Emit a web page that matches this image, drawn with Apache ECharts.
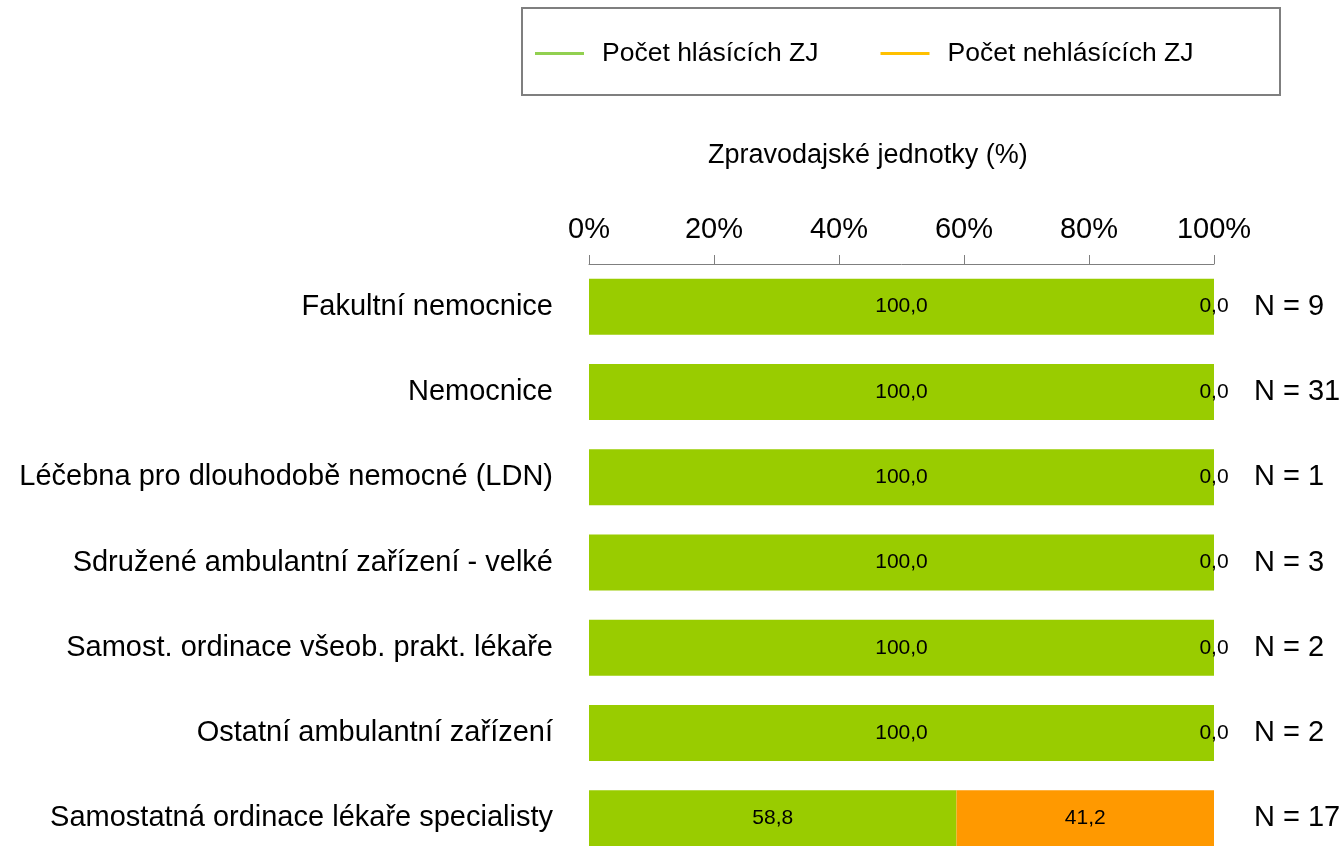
<!DOCTYPE html>
<html>
<head>
<meta charset="utf-8">
<script src="https://cdn.jsdelivr.net/npm/echarts@6/dist/echarts.min.js"></script>
<style>
  html, body { margin: 0; padding: 0; background: #fff; }
  #chart { width: 1344px; height: 846px; }
</style>
</head>
<body>
<div id="chart"></div>
<script>
const categories = [
  "Fakultní nemocnice",
  "Nemocnice",
  "Léčebna pro dlouhodobě nemocné (LDN)",
  "Sdružené ambulantní zařízení - velké",
  "Samost. ordinace všeob. prakt. lékaře",
  "Ostatní ambulantní zařízení",
  "Samostatná ordinace lékaře specialisty"
];
const nLabels = ["N = 9", "N = 31", "N = 1", "N = 3", "N = 2", "N = 2", "N = 17"];
const reporting = [100.0, 100.0, 100.0, 100.0, 100.0, 100.0, 58.8];
const notReporting = [0.0, 0.0, 0.0, 0.0, 0.0, 0.0, 41.2];
const xTicks = [0, 20, 40, 60, 80, 100];

const font = "Liberation Sans, Arial, sans-serif";
const fmt = (p) => p.value.toFixed(1).replace(".", ",");

const chart = echarts.init(document.getElementById("chart"));
chart.setOption({
  animation: false,
  textStyle: { fontFamily: font },
  title: {
    text: "Zpravodajské jednotky (%)",
    left: 703,
    top: 137,
    textStyle: { fontFamily: font, fontSize: 27, fontWeight: "normal", color: "#000" }
  },
  graphic: [
    {
      type: "rect",
      shape: { x: 522, y: 8, width: 758, height: 87 },
      style: { fill: "none", stroke: "#7f7f7f", lineWidth: 2 }
    }
  ],
  legend: {
    left: 535,
    top: 40,
    padding: 0,
    itemWidth: 49,
    itemHeight: 3,
    itemGap: 62,
    textStyle: { fontFamily: font, fontSize: 26.5, color: "#000", padding: [0, 0, 0, 13] },
    data: [
      { name: "Počet hlásících ZJ", icon: "rect", itemStyle: { color: "#92d050" } },
      { name: "Počet nehlásících ZJ", icon: "rect", itemStyle: { color: "#ffc000" } }
    ]
  },
  grid: { left: 589, right: 130, top: 264, height: 597, outerBoundsMode: "none" },
  xAxis: {
    type: "value",
    position: "top",
    min: 0,
    max: 100,
    interval: 20,
    axisLine: { show: true, lineStyle: { color: "#7f7f7f", width: 1 } },
    axisTick: { show: true, length: 9, lineStyle: { color: "#7f7f7f" } },
    splitLine: { show: false },
    axisLabel: {
      margin: 20,
      fontFamily: font,
      fontSize: 29,
      color: "#000",
      formatter: (v) => (xTicks.includes(v) ? v + "%" : "")
    }
  },
  yAxis: [
    {
      type: "category",
      inverse: true,
      data: categories,
      axisLine: { show: false },
      axisTick: { show: false },
      axisLabel: { margin: 36, fontFamily: font, fontSize: 29, color: "#000" }
    },
    {
      type: "category",
      inverse: true,
      position: "right",
      data: nLabels,
      axisLine: { show: false },
      axisTick: { show: false },
      axisLabel: { margin: 40, align: "left", fontFamily: font, fontSize: 29, color: "#000" }
    }
  ],
  series: [
    {
      name: "Počet hlásících ZJ",
      type: "bar",
      stack: "total",
      barWidth: 56,
      data: reporting,
      itemStyle: { color: "#99cc00" },
      label: { show: true, position: "inside", formatter: fmt, fontFamily: font, fontSize: 21, color: "#000" }
    },
    {
      name: "Počet nehlásících ZJ",
      type: "bar",
      stack: "total",
      barWidth: 56,
      data: notReporting,
      itemStyle: { color: "#ff9900" },
      label: { show: true, position: "inside", formatter: fmt, fontFamily: font, fontSize: 21, color: "#000" }
    }
  ]
});
</script>
</body>
</html>
